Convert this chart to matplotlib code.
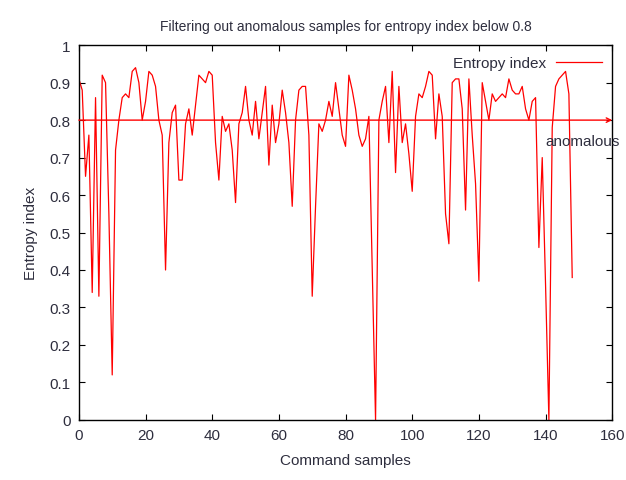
import numpy as np
import matplotlib
matplotlib.use("Agg")
import matplotlib.pyplot as plt

# entropy index per command sample
entropy = [
    0.91, 0.88, 0.65, 0.76, 0.34, 0.86, 0.33, 0.92, 0.90, 0.55,
    0.12, 0.72, 0.80, 0.86, 0.87, 0.86, 0.93, 0.94, 0.90, 0.80,
    0.85, 0.93, 0.92, 0.89, 0.80, 0.76, 0.40, 0.74, 0.82, 0.84,
    0.64, 0.64, 0.79, 0.83, 0.76, 0.84, 0.92, 0.91, 0.90, 0.93,
    0.92, 0.74, 0.64, 0.81, 0.77, 0.79, 0.72, 0.58, 0.79, 0.82,
    0.89, 0.80, 0.76, 0.85, 0.75, 0.82, 0.89, 0.68, 0.84, 0.74,
    0.79, 0.88, 0.82, 0.74, 0.57, 0.80, 0.88, 0.89, 0.89, 0.76,
    0.33, 0.57, 0.79, 0.77, 0.80, 0.85, 0.81, 0.90, 0.83, 0.76,
    0.73, 0.92, 0.88, 0.83, 0.76, 0.73, 0.75, 0.81, 0.40, 0.00,
    0.80, 0.85, 0.89, 0.74, 0.93, 0.66, 0.89, 0.74, 0.79, 0.71,
    0.61, 0.81, 0.87, 0.86, 0.89, 0.93, 0.92, 0.75, 0.87, 0.81,
    0.55, 0.47, 0.90, 0.91, 0.91, 0.83, 0.56, 0.91, 0.76, 0.63,
    0.37, 0.90, 0.85, 0.80, 0.87, 0.85, 0.86, 0.87, 0.86, 0.91,
    0.88, 0.87, 0.87, 0.89, 0.83, 0.80, 0.85, 0.86, 0.46, 0.70,
    0.36, 0.00, 0.78, 0.89, 0.91, 0.92, 0.93, 0.87, 0.38,
]
samples = np.arange(len(entropy))
threshold = 0.8
x_ticks = [0, 20, 40, 60, 80, 100, 120, 140, 160]
y_ticks = [0, 0.1, 0.2, 0.3, 0.4, 0.5, 0.6, 0.7, 0.8, 0.9, 1]
y_labels = ["0", "0.1", "0.2", "0.3", "0.4", "0.5", "0.6", "0.7", "0.8", "0.9", "1"]

plt.rcParams['font.family'] = ['Liberation Sans', 'DejaVu Sans']
txt = '#2e2e3e'

fig = plt.figure(figsize=(6.26, 4.81), dpi=100)
ax = fig.add_axes([0.126, 0.125, 0.852, 0.779])

ax.plot(samples, entropy, color='red', lw=0.9, label='Entropy index')

# threshold arrow
ax.annotate('', xy=(160, threshold), xytext=(0, threshold),
            arrowprops=dict(arrowstyle='->', color='red', lw=1.0, mutation_scale=8,
                            shrinkA=0, shrinkB=0))
ax.text(140.0, 0.745, 'anomalous', fontsize=11, color=txt, ha='left', va='center')

ax.set_xlim(0, 160)
ax.set_ylim(0, 1)
ax.set_xticks(x_ticks)
ax.set_yticks(y_ticks)
ax.set_yticklabels(y_labels)
ax.tick_params(direction='in', top=True, right=True, length=4, labelsize=11,
               labelcolor=txt, pad=6)
for s in ax.spines.values():
    s.set_linewidth(1.0)

ax.set_xlabel('Command samples', fontsize=11, color=txt, labelpad=8)
ax.set_ylabel('Entropy index', fontsize=11, color=txt, labelpad=8)
ax.set_title('Filtering out anomalous samples for entropy index below 0.8',
             fontsize=10, color=txt, pad=11)

leg = ax.legend(loc='upper right', frameon=False, fontsize=11, markerfirst=False,
                handlelength=3.0, borderaxespad=0.3, handletextpad=0.6)
for t in leg.get_texts():
    t.set_color(txt)

fig.savefig('out.png', dpi=100)
